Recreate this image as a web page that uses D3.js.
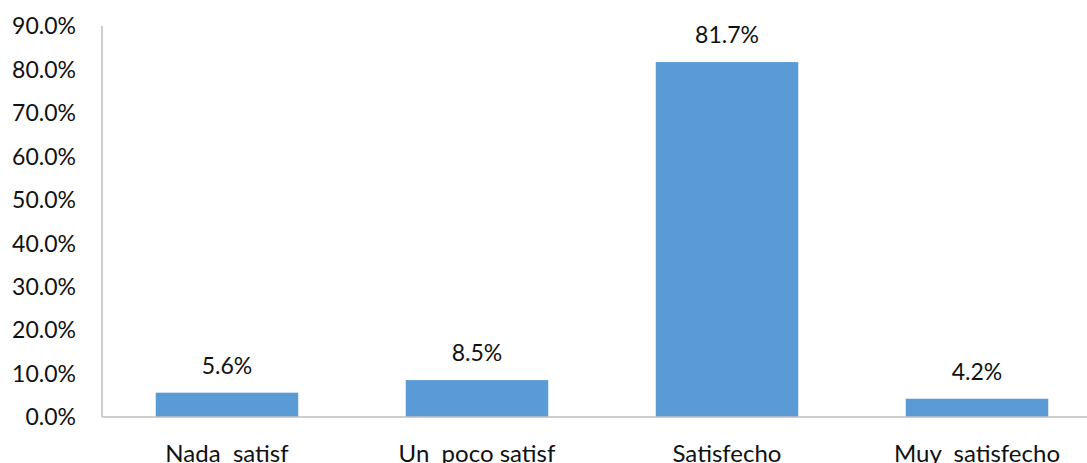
<!DOCTYPE html>
<html>
<head>
<meta charset="utf-8">
<script src="https://cdn.jsdelivr.net/npm/d3@7"></script>
<style>
  html, body { margin: 0; padding: 0; background: #fff; }
  svg { display: block; }
  text { font-family: Lato, "Open Sans", sans-serif; fill: #111; }
</style>
</head>
<body>
<svg id="chart" width="1087" height="463"></svg>
<script>
const categories = ["Nada  satisf", "Un  poco satisf", "Satisfecho", "Muy  satisfecho"];
const values = [5.6, 8.5, 81.7, 4.2];
const tickValues = [0, 10, 20, 30, 40, 50, 60, 70, 80, 90];

const svg = d3.select("#chart");
const plotLeft = 102, plotRight = 1102, plotTop = 26, plotBottom = 417;

const x = d3.scaleBand().domain(categories).range([plotLeft, plotRight]).paddingInner(0.43).paddingOuter(0.215);
const y = d3.scaleLinear().domain([0, 90]).range([plotBottom, plotTop]);

// y axis labels
svg.append("g").selectAll("text").data(tickValues).join("text")
  .attr("x", 76).attr("y", d => y(d))
  .attr("dy", "0.36em")
  .attr("text-anchor", "end")
  .style("font-size", "23px")
  .text(d => d.toFixed(1) + "%");

// bars
svg.append("g").selectAll("rect").data(values).join("rect")
  .attr("x", (d, i) => x(categories[i]))
  .attr("width", x.bandwidth())
  .attr("y", d => y(d))
  .attr("height", d => y(0) - y(d))
  .attr("fill", "#5b9bd5");

// value labels
svg.append("g").selectAll("text").data(values).join("text")
  .attr("x", (d, i) => x(categories[i]) + x.bandwidth() / 2)
  .attr("y", d => y(d) - 19)
  .attr("text-anchor", "middle")
  .style("font-size", "23px")
  .text(d => d.toFixed(1) + "%");

// axis lines
svg.append("line").attr("x1", plotLeft).attr("x2", plotLeft).attr("y1", plotTop).attr("y2", plotBottom)
  .attr("stroke", "#bfbfbf").attr("stroke-width", 1.5);
svg.append("line").attr("x1", plotLeft).attr("x2", 1087).attr("y1", plotBottom).attr("y2", plotBottom)
  .attr("stroke", "#bfbfbf").attr("stroke-width", 1.5);

// category labels
svg.append("g").selectAll("text").data(categories).join("text")
  .attr("x", d => x(d) + x.bandwidth() / 2)
  .attr("y", 462)
  .attr("text-anchor", "middle")
  .style("white-space", "pre")
  .style("font-size", "24px")
  .text(d => d);
</script>
</body>
</html>
